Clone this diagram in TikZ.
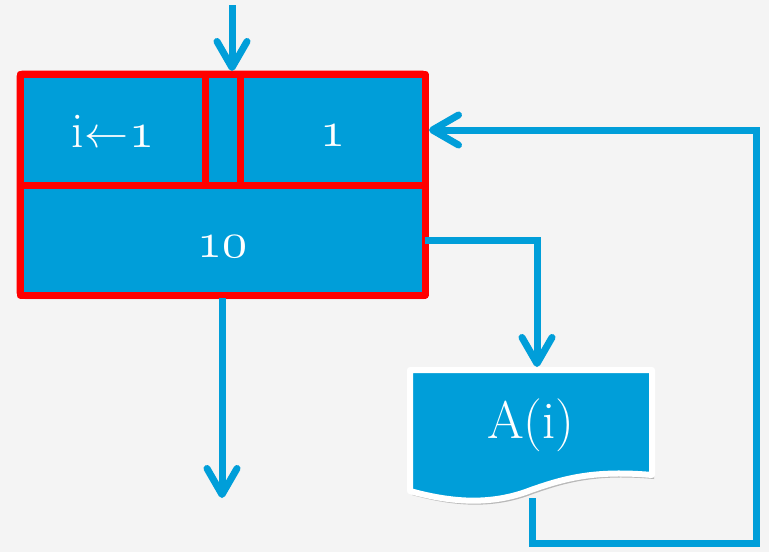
\documentclass[tikz,border=0pt]{standalone}
\usepackage{fontspec}
\usetikzlibrary{arrows.meta,shadows}
\definecolor{flowblue}{RGB}{0,158,217}
\definecolor{bgc}{RGB}{244,244,244}
\definecolor{bordred}{RGB}{255,0,0}
\font\osnfont=cmmi10 at 50pt
\font\arrfont=cmsy10 at 44pt
\newcommand\osn[1]{{\osnfont #1}}
\newcommand\larr{{\arrfont\char"20}}
\begin{document}
\begin{tikzpicture}[x=1pt,y=-1pt,
  cellbox/.style={draw=bordred, fill=flowblue, line width=7pt, inner sep=0pt, line join=round},
  label/.style={text=white, inner sep=0pt, anchor=base, font=\fontsize{50}{56}\selectfont},
  flow/.style={draw=flowblue, line width=7pt},
  arr/.style={flow, -{Straight Barb[length=26pt,width=30pt,round]}},
  shade/.style={drop shadow={shadow xshift=2pt, shadow yshift=-4pt, opacity=0.35, fill=black!70}}
]
\fill[bgc] (0,0) rectangle (769,552);
\useasboundingbox (0,0) rectangle (769,552);

% outer frame with shadow
\node[cellbox, shade, rounded corners=3pt, minimum width=405pt, minimum height=221pt] (outer) at (222.5,184.5) {};
\node[cellbox, minimum width=185pt, minimum height=111pt] (c1) at (112.5,129.5) {};
\node[cellbox, minimum width=35pt, minimum height=111pt] (cm) at (222.5,129.5) {};
\node[cellbox, minimum width=185pt, minimum height=111pt] (c2) at (332.5,129.5) {};
\node[cellbox, minimum width=405pt, minimum height=110pt] (c3) at (222.5,240) {};

\node[label] (t1) at (113,147) {i\kern1pt\larr\kern1pt\osn{1}};
\node[label] (t2) at (333,146) {\osn{1}};
\node[label] (t3) at (222,257) {\osn{10}};

% document shape
\path[fill=flowblue, draw=white, line width=6pt, line join=round, shade]
  (410,370) -- (652,370) -- (652,475)
  .. controls (595,470) and (565,478) .. (531,490)
  .. controls (490,506) and (450,502) .. (410,491) -- cycle;
\node[label, font=\fontsize{53}{60}\selectfont] (doc) at (531,438) {A(i)};

% connector coordinates
\coordinate (inTop) at (232,5);
\coordinate (topTip) at (232,71);
\coordinate (c3out) at (425,240);
\coordinate (bend1) at (537,240);
\coordinate (docTop) at (537,367);
\coordinate (docBot) at (532,498);
\coordinate (corner1) at (532,543);
\coordinate (corner2) at (756,543);
\coordinate (corner3) at (756,130);
\coordinate (c2in) at (429,130);
\coordinate (outBot) at (222,298);
\coordinate (exitTip) at (222,498);

\draw[arr] (inTop) -- (topTip);
\draw[arr] (c3out) -- (bend1) -- (docTop);
\draw[arr] (docBot) -- (corner1) -- (corner2) -- (corner3) -- (c2in);
\draw[arr] (outBot) -- (exitTip);
\end{tikzpicture}
\end{document}
